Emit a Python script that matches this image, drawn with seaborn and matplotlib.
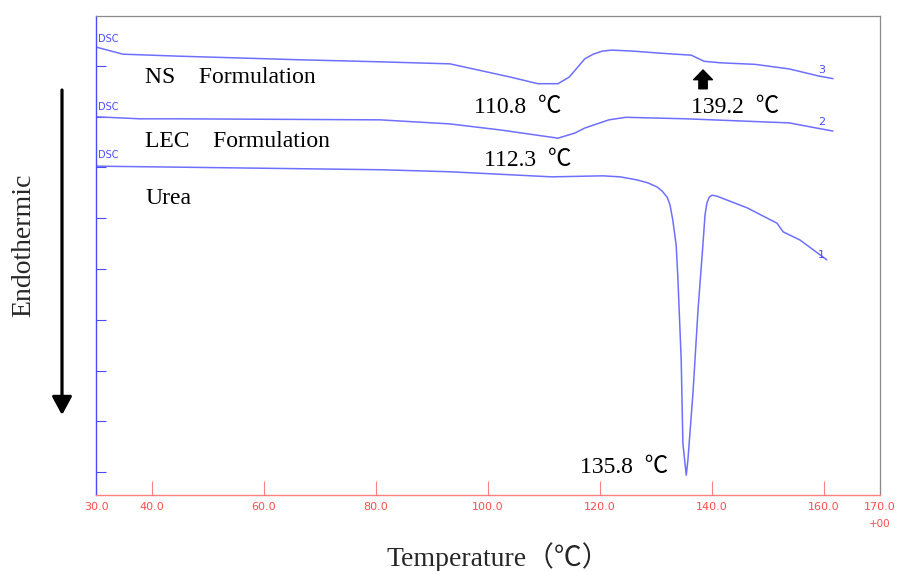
import numpy as np
import pandas as pd
import matplotlib
matplotlib.use("Agg")
import matplotlib.pyplot as plt
import seaborn as sns
from matplotlib.patches import FancyArrowPatch

# ---------------- data ----------------
temp_ns = [30.0, 34.8, 45.0, 66.4, 80.7, 93.2, 98.6, 104.0, 108.9, 112.5, 114.5,
           115.9, 117.3, 118.8, 120.4, 122.1, 125.9, 130.7, 136.3, 138.6, 141.6,
           147.7, 153.8, 159.1, 161.6]
heat_ns = [8.80, 8.66, 8.62, 8.55, 8.51, 8.47, 8.34, 8.21, 8.08, 8.08, 8.21,
           8.39, 8.57, 8.66, 8.72, 8.74, 8.72, 8.68, 8.64, 8.52, 8.49,
           8.46, 8.37, 8.23, 8.18]

temp_lec = [30.0, 37.9, 45.0, 80.7, 93.2, 102.3, 112.5, 115.5, 117.3, 121.6,
            124.6, 135.5, 144.6, 153.8, 158.6, 161.6]
heat_lec = [7.43, 7.39, 7.39, 7.37, 7.29, 7.17, 7.01, 7.11, 7.21, 7.37,
            7.42, 7.39, 7.35, 7.31, 7.21, 7.15]

temp_urea = [30.0, 45.0, 80.7, 93.2, 111.4, 120.5, 123.6, 126.6, 128.6, 130.2,
             131.1, 132.0, 132.5, 133.0, 133.6, 133.9, 134.5, 134.8, 135.4, 135.7,
             136.6, 137.5, 138.4, 138.75, 139.1, 139.5, 140.0, 140.9, 146.3, 151.6,
             152.7, 155.7, 160.5]
heat_urea = [6.46, 6.44, 6.39, 6.35, 6.25, 6.27, 6.25, 6.19, 6.13, 6.05,
             5.97, 5.85, 5.70, 5.40, 4.91, 4.28, 2.65, 1.02, 0.39, 0.69,
             2.00, 3.63, 4.95, 5.50, 5.74, 5.85, 5.89, 5.87, 5.64, 5.34,
             5.17, 5.01, 4.62]

xtick_values = [30, 40, 60, 80, 100, 120, 140, 160, 170]
xtick_labels = ["30.0", "40.0", "60.0", "80.0", "100.0", "120.0", "140.0", "160.0", "170.0"]
ytick_values = list(np.linspace(0.45, 8.43, 9))

sample_names = ["NS\u3000Formulation", "LEC\u3000Formulation", "Urea"]
sample_label_pos = [(38.75, 8.09), (38.75, 6.84), (38.75, 5.72)]
peak_labels = ["110.8  \u2103", "139.2  \u2103", "112.3  \u2103", "135.8  \u2103"]
peak_label_pos = [(97.5, 7.50), (136.3, 7.50), (99.3, 6.47), (116.4, 0.43)]
curve_numbers = ["3", "2", "1"]
curve_number_pos = [(159.6, 8.35), (159.6, 7.33), (159.6, 4.72)]
dsc_label_pos = [8.96, 7.62, 6.68]
shoulder_arrow = (138.4, 7.98, 8.35)   # x, tail, tip

# ---------------- style ----------------
sns.set_theme(style="white")
plt.rcParams["font.family"] = ["DejaVu Sans"]
serif = ["Liberation Serif", "Noto Sans CJK JP"]

line_color = "#6f6fff"
blue = "#4a4aff"
red = "#ff4d4d"

fig = plt.figure(figsize=(8.97, 5.71), dpi=100)
ax = fig.add_axes([96 / 897, 76 / 571, 784 / 897, 479 / 571])

for T, H in [(temp_ns, heat_ns), (temp_lec, heat_lec), (temp_urea, heat_urea)]:
    df = pd.DataFrame({"Temperature": T, "Heat": H})
    sns.lineplot(data=df, x="Temperature", y="Heat", ax=ax, color=line_color,
                 lw=1.1, estimator=None, sort=False)

ax.set_xlim(30, 170)
ax.set_ylim(0, 9.41)
ax.set_xlabel("")
ax.set_ylabel("")
ax.set_xticks(xtick_values)
ax.set_xticklabels(xtick_labels, color=red, fontsize=8)
ax.set_yticks(ytick_values)
ax.set_yticklabels([])
ax.tick_params(axis="x", direction="in", length=10, width=0.8, colors="#ff8080",
               labelcolor=red, pad=5, bottom=True)
ax.tick_params(axis="y", direction="in", length=7, width=0.8, colors=blue, left=True)

ax.spines["left"].set_color(blue)
ax.spines["left"].set_linewidth(1.0)
ax.spines["bottom"].set_color("#ff8080")
ax.spines["bottom"].set_linewidth(1.0)
for s in ["top", "right"]:
    ax.spines[s].set_color("#8a8a8a")
    ax.spines[s].set_linewidth(0.9)

# DSC tags and curve numbers
for v in dsc_label_pos:
    ax.text(30.4, v, "DSC", color=blue, fontsize=7, ha="left", va="center")
for s, (x, y) in zip(curve_numbers, curve_number_pos):
    ax.text(x, y, s, color=blue, fontsize=8, ha="center", va="center")

# sample names and peak temperatures
for s, (x, y) in zip(sample_names, sample_label_pos):
    ax.text(x, y, s, family=serif, fontsize=17, ha="left", va="baseline", color="black")
for s, (x, y) in zip(peak_labels, peak_label_pos):
    ax.text(x, y, s, family=serif, fontsize=17, ha="left", va="baseline", color="black")

# small block arrow at the shoulder
ax.add_patch(FancyArrowPatch((shoulder_arrow[0], shoulder_arrow[1]),
                             (shoulder_arrow[0], shoulder_arrow[2]),
                             arrowstyle="simple,head_length=0.7,head_width=1.35,tail_width=0.6",
                             mutation_scale=10, color="black", shrinkA=0, shrinkB=0))

# endothermic arrow (figure coordinates)
fig.patches.append(FancyArrowPatch((62 / 897, 1 - 90 / 571), (62 / 897, 1 - 415 / 571),
                                   transform=fig.transFigure, figure=fig,
                                   arrowstyle="-|>,head_length=1.1,head_width=0.6",
                                   mutation_scale=10, color="black", lw=2.3,
                                   shrinkA=0, shrinkB=0))

fig.text(24 / 897, 1 - 245 / 571, "Endothermic", family=serif, fontsize=20,
         rotation=90, ha="center", va="center")
fig.text(498 / 897, 5 / 571, "Temperature\uff08\u2103\uff09", family=serif, fontsize=20,
         ha="center", va="baseline")
fig.text(880 / 897, 1 - 524 / 571, "+00", color=red, fontsize=7.5, ha="center", va="center")

fig.savefig("out.png", dpi=100)
